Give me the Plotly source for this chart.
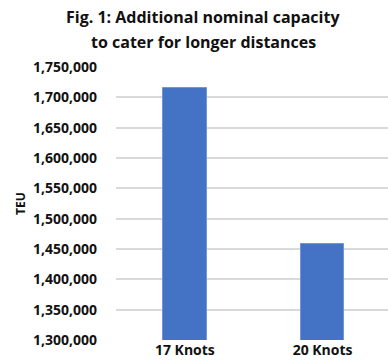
import plotly.graph_objects as go

categories = ["17 Knots", "20 Knots"]
teu_values = [1715000, 1458000]
tick_values = [1300000, 1350000, 1400000, 1450000, 1500000, 1550000, 1600000, 1650000, 1700000, 1750000]
tick_labels = [f"{v:,}" for v in tick_values]
title_lines = ["Fig. 1: Additional nominal capacity", "to cater for longer distances"]

FONT = "Open Sans"
TEXT = "#111111"

fig = go.Figure(
    go.Bar(
        x=[0, 1],
        y=teu_values,
        width=0.315,
        marker=dict(color="#4472C4", line=dict(color="#7096D8", width=1)),
    )
)

# Two-line heading, placed line by line in pixel offsets from the top of the page
for i, line in enumerate(title_lines):
    fig.add_annotation(
        text=f"<b>{line}</b>",
        xref="paper",
        yref="paper",
        x=0.32,
        y=1,
        xanchor="center",
        yanchor="middle",
        yshift=67 - 17 - 25 * i,
        showarrow=False,
        font=dict(family=FONT, size=16, color=TEXT),
    )

fig.update_layout(
    width=388,
    height=364,
    margin=dict(l=116, r=0, t=67, b=24),
    paper_bgcolor="white",
    plot_bgcolor="white",
    showlegend=False,
    bargap=0,
    font=dict(family=FONT, color=TEXT),
    xaxis=dict(
        range=[-0.5, 1.475],
        tickvals=[0, 1],
        ticktext=[f"<b>{c}</b>" for c in categories],
        showgrid=False,
        showline=False,
        zeroline=False,
        ticks="",
        tickfont=dict(family=FONT, size=14, color=TEXT),
        fixedrange=True,
    ),
    yaxis=dict(
        range=[1300000, 1750000],
        tickvals=tick_values,
        ticktext=[f"<b>{t}</b>" for t in tick_labels],
        showgrid=True,
        gridcolor="#D9D9D9",
        gridwidth=1.5,
        zeroline=False,
        showline=False,
        ticks="",
        ticklabelstandoff=18,
        tickfont=dict(family=FONT, size=14, color=TEXT),
        title=dict(text="<b>TEU</b>", standoff=4, font=dict(family=FONT, size=12, color=TEXT)),
        fixedrange=True,
    ),
)

fig.write_html("out.html")
